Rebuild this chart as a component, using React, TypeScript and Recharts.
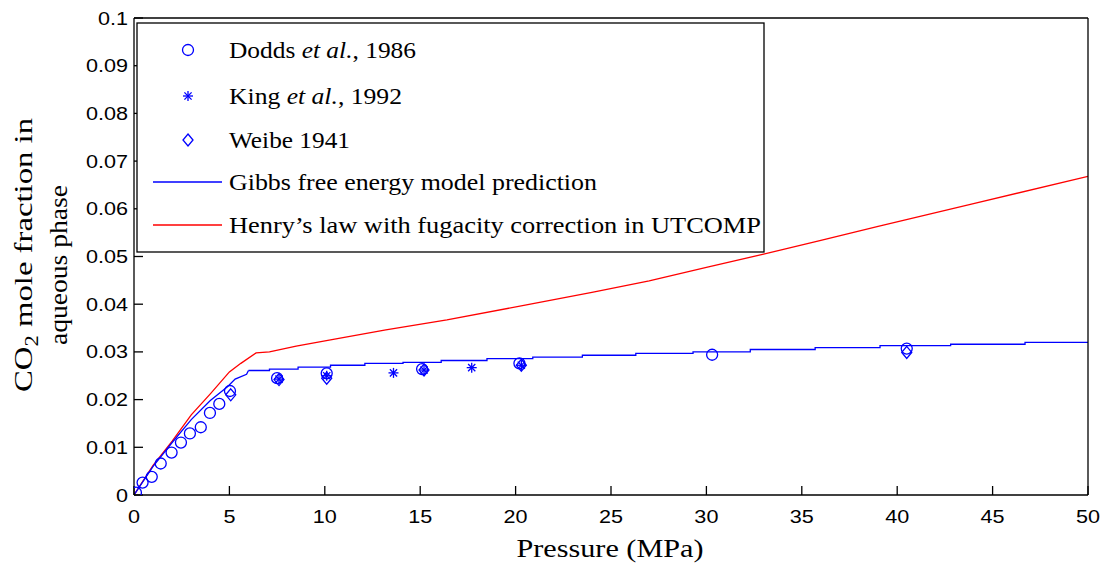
import React from "react";
import {
  ComposedChart,
  Line,
  Scatter,
  XAxis,
  YAxis,
} from "recharts";

// Dodds et al., 1986 (circles)
const doddsP = [0.1, 0.45, 0.93, 1.4, 1.97, 2.46, 2.93, 3.5, 3.98, 4.47, 5.03, 7.5, 10.1, 15.1, 20.2, 30.3, 40.5];
const doddsX = [0.0005, 0.0026, 0.0038, 0.0066, 0.0089, 0.011, 0.0129, 0.0142, 0.0172, 0.0191, 0.0218, 0.0245, 0.0255, 0.0264, 0.0276, 0.0294, 0.0307];

// King et al., 1992 (stars)
const kingP = [7.6, 10.1, 13.6, 15.2, 17.7, 20.3];
const kingX = [0.0243, 0.025, 0.0256, 0.0262, 0.0267, 0.0272];

// Weibe 1941 (diamonds)
const weibeP = [5.07, 7.6, 10.1, 15.2, 20.3, 40.5];
const weibeX = [0.021, 0.0242, 0.0245, 0.0262, 0.0272, 0.0299];

// Gibbs free energy model: rising part, then staircase
const gibbsRiseP = [0, 1, 2, 3, 4, 4.9, 5.3, 5.9, 6.0];
const gibbsRiseX = [0, 0.006, 0.011, 0.0158, 0.0198, 0.0227, 0.0243, 0.0253, 0.0261];
const gibbsStepP = [6.0, 7.1, 8.6, 10.3, 12.1, 14.1, 16.1, 18.5, 20.9, 23.5, 26.3, 29.3, 32.3, 35.7, 39.1, 42.8, 46.7, 50];
const gibbsStepX = [0.0261, 0.0264, 0.0268, 0.0272, 0.0276, 0.0278, 0.0282, 0.0286, 0.0289, 0.0293, 0.0297, 0.03, 0.0305, 0.0309, 0.0313, 0.0316, 0.032, 0.032];

// Henry's law with fugacity correction
const henryP = [0, 1, 2, 3, 4, 5, 5.6, 6.4, 7.1, 8.5, 10.3, 13.2, 16.4, 20.5, 24, 27, 30, 33, 36, 39, 44, 50];
const henryX = [0, 0.0062, 0.0113, 0.0168, 0.0212, 0.0258, 0.0276, 0.0298, 0.03, 0.0312, 0.0325, 0.0346, 0.0367, 0.0398, 0.0425, 0.0449, 0.0477, 0.0505, 0.0534, 0.0563, 0.0611, 0.0668];

const xTicks = [0, 5, 10, 15, 20, 25, 30, 35, 40, 45, 50];
const yTicks = [0, 0.01, 0.02, 0.03, 0.04, 0.05, 0.06, 0.07, 0.08, 0.09, 0.1];

const BLUE = "#0000ff";
const RED = "#ff0000";
const SERIF = "'Liberation Serif', serif";
const SANS = "'Liberation Sans', Arial, sans-serif";

const zip = (p: number[], v: number[]) => p.map((x, i) => ({ x, y: v[i] }));

// approximate stretched Helvetica width
const tickWidth = (s: string) =>
  s.split("").reduce((w, c) => w + (c === "." ? 0.278 : 0.556), 0) * 18 * 1.2;

const XTick = ({ x, y, payload }: any) => {
  const s = String(payload.value);
  return (
    <text x={x} y={y + 6.5} textAnchor="middle" fontFamily={SANS} fontSize={18} fill="#000"
      textLength={tickWidth(s)} lengthAdjust="spacingAndGlyphs">
      {s}
    </text>
  );
};

const YTick = ({ x, y, payload }: any) => {
  const s = String(payload.value);
  return (
    <text x={x} y={y + 6.5} textAnchor="end" fontFamily={SANS} fontSize={18} fill="#000"
      textLength={tickWidth(s)} lengthAdjust="spacingAndGlyphs">
      {s}
    </text>
  );
};

const NoTick = () => <g />;

const Circle = ({ cx, cy }: any) => (
  <circle cx={cx} cy={cy} r={5.5} fill="none" stroke={BLUE} strokeWidth={1.3} />
);

const Star = ({ cx, cy }: any) => {
  const r = 5;
  const d = r * 0.72;
  return (
    <g stroke={BLUE} strokeWidth={1.3}>
      <line x1={cx - r} y1={cy} x2={cx + r} y2={cy} />
      <line x1={cx} y1={cy - r} x2={cx} y2={cy + r} />
      <line x1={cx - d} y1={cy - d} x2={cx + d} y2={cy + d} />
      <line x1={cx - d} y1={cy + d} x2={cx + d} y2={cy - d} />
    </g>
  );
};

const Diamond = ({ cx, cy }: any) => (
  <polygon
    points={`${cx},${cy - 6} ${cx + 5},${cy} ${cx},${cy + 6} ${cx - 5},${cy}`}
    fill="none"
    stroke={BLUE}
    strokeWidth={1.3}
  />
);

function LegendBox() {
  const rows = [50, 96, 140, 182, 225];
  const textProps = {
    x: 229,
    fontFamily: SERIF,
    fontSize: 23,
    fill: "#000",
    lengthAdjust: "spacingAndGlyphs" as const,
  };
  return (
    <svg width={1109} height={567} style={{ position: "absolute", left: 0, top: 0, pointerEvents: "none" }}>
      <rect x={137} y={23} width={627} height={229} fill="#fff" stroke="#000" strokeWidth={1.3} />
      <Circle cx={188} cy={rows[0]} />
      <Star cx={188} cy={rows[1]} />
      <Diamond cx={188} cy={rows[2]} />
      <line x1={153} y1={rows[3]} x2={222} y2={rows[3]} stroke={BLUE} strokeWidth={1.3} />
      <line x1={153} y1={rows[4]} x2={222} y2={rows[4]} stroke={RED} strokeWidth={1.3} />

      <text {...textProps} y={rows[0] + 8} textLength={187}>
        Dodds <tspan fontStyle="italic">et al.</tspan>, 1986
      </text>
      <text {...textProps} y={rows[1] + 8} textLength={173}>
        King <tspan fontStyle="italic">et al.</tspan>, 1992
      </text>
      <text {...textProps} y={rows[2] + 8} textLength={121}>
        Weibe 1941
      </text>
      <text {...textProps} y={rows[3] + 8} textLength={368}>
        Gibbs free energy model prediction
      </text>
      <text {...textProps} y={rows[4] + 8} textLength={532}>
        Henry’s law with fugacity correction in UTCOMP
      </text>

      {/* axis titles */}
      <text x={610} y={557} textAnchor="middle" fontFamily={SERIF} fontSize={25} fill="#000"
        textLength={187} lengthAdjust="spacingAndGlyphs">
        Pressure (MPa)
      </text>
      <text transform="translate(32,255) rotate(-90)" textAnchor="middle" fontFamily={SERIF} fontSize={26}
        fill="#000" textLength={274} lengthAdjust="spacingAndGlyphs">
        CO<tspan fontSize={18} dy={6}>2</tspan>
        <tspan dy={-6}> mole fraction in</tspan>
      </text>
      <text transform="translate(67,265) rotate(-90)" textAnchor="middle" fontFamily={SERIF} fontSize={26}
        fill="#000" textLength={160} lengthAdjust="spacingAndGlyphs">
        aqueous phase
      </text>
    </svg>
  );
}

export default function App() {
  return (
    <div style={{ position: "absolute", left: 0, top: 0, width: 1109, height: 567, background: "#fff" }}>
      <ComposedChart
        width={1109}
        height={567}
        margin={{ top: 17, right: 20, bottom: 32, left: 54 }}
      >
        <XAxis
          dataKey="x"
          type="number"
          domain={[0, 50]}
          ticks={xTicks}
          allowDataOverflow
          height={40}
          tickSize={-9}
          tickMargin={30}
          tick={<XTick />}
          stroke="#000"
          strokeWidth={1.3}
        />
        <XAxis
          xAxisId="top"
          orientation="top"
          dataKey="x"
          type="number"
          domain={[0, 50]}
          ticks={xTicks}
          height={1}
          tickSize={-9}
          tick={<NoTick />}
          stroke="#000"
          strokeWidth={1.3}
        />
        <YAxis
          dataKey="y"
          type="number"
          domain={[0, 0.1]}
          ticks={yTicks}
          allowDataOverflow
          width={80}
          tickSize={-9}
          tickMargin={15}
          tick={<YTick />}
          stroke="#000"
          strokeWidth={1.3}
        />
        <YAxis
          yAxisId="right"
          orientation="right"
          dataKey="y"
          type="number"
          domain={[0, 0.1]}
          ticks={yTicks}
          width={1}
          tickSize={-9}
          tick={<NoTick />}
          stroke="#000"
          strokeWidth={1.3}
        />

        <Line
          data={zip(henryP, henryX)}
          dataKey="y"
          type="linear"
          stroke={RED}
          strokeWidth={1.3}
          dot={false}
          isAnimationActive={false}
        />
        <Line
          data={zip(gibbsRiseP, gibbsRiseX)}
          dataKey="y"
          type="linear"
          stroke={BLUE}
          strokeWidth={1.3}
          dot={false}
          isAnimationActive={false}
        />
        <Line
          data={zip(gibbsStepP, gibbsStepX)}
          dataKey="y"
          type="stepAfter"
          stroke={BLUE}
          strokeWidth={1.3}
          dot={false}
          isAnimationActive={false}
        />

        <Scatter data={zip(doddsP, doddsX)} shape={<Circle />} isAnimationActive={false} />
        <Scatter data={zip(kingP, kingX)} shape={<Star />} isAnimationActive={false} />
        <Scatter data={zip(weibeP, weibeX)} shape={<Diamond />} isAnimationActive={false} />
      </ComposedChart>
      <LegendBox />
    </div>
  );
}
